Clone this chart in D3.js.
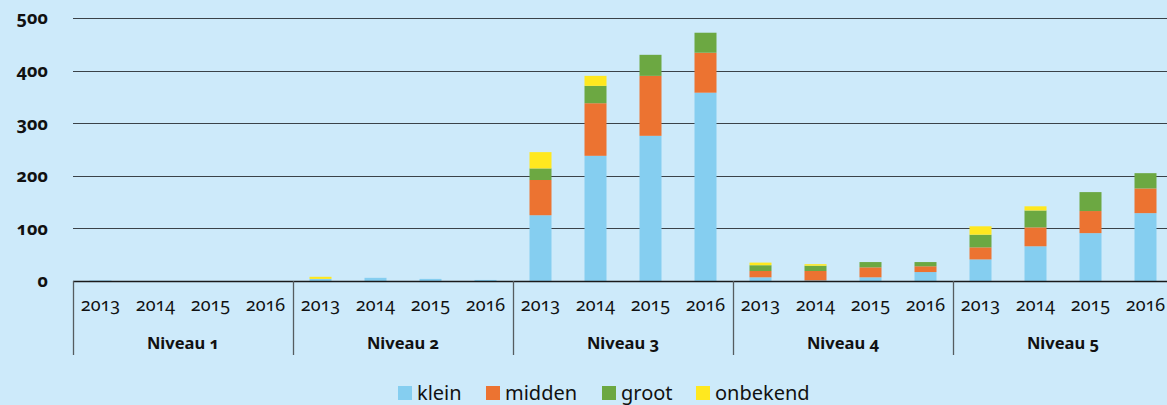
<!DOCTYPE html>
<html>
<head>
<meta charset="utf-8">
<script src="https://cdn.jsdelivr.net/npm/d3@7"></script>
<style>
  html, body { margin: 0; padding: 0; background: #cdeafa; }
  svg { display: block; font-family: "Noto Sans", sans-serif; font-variant-numeric: oldstyle-nums; }
</style>
</head>
<body>
<svg id="chart" width="1167" height="405"></svg>
<script>
const niveaus = ["Niveau 1", "Niveau 2", "Niveau 3", "Niveau 4", "Niveau 5"];
const years = ["2013", "2014", "2015", "2016"];
const seriesNames = ["klein", "midden", "groot", "onbekend"];
const seriesColors = ["#85cef0", "#ec7331", "#6ca842", "#ffe81f"];
const yTicks = [0, 100, 200, 300, 400, 500];
// values per niveau (outer) and year (inner)
const klein    = [1, 0, 0, 0,   4, 6, 4, 2,   125, 238, 276, 358,   7, 1, 7, 17,   41, 66, 91, 129];
const midden   = [0, 0, 0, 0,   0, 0, 0, 0,   67, 100, 114, 76,     12, 18, 19, 11, 23, 36, 42, 47];
const groot    = [0, 0, 0, 0,   0, 0, 0, 0,   22, 33, 40, 38,       11, 10, 10, 8,  24, 32, 36, 29];
const onbekend = [0, 0, 0, 0,   4, 0, 0, 0,   31, 19, 0, 0,         5, 3, 0, 0,     16, 8, 0, 0];

const rows = [];
niveaus.forEach((n, i) => years.forEach((y, j) => {
  const k = i * years.length + j;
  rows.push({niveau: n, year: y, klein: klein[k], midden: midden[k], groot: groot[k], onbekend: onbekend[k]});
}));

const svg = d3.select("#chart");
const x0 = d3.scaleBand().domain(niveaus).range([73, 1173]).paddingInner(0).paddingOuter(0);
const x1 = d3.scaleBand().domain(years).range([0, x0.bandwidth()]).paddingInner(0.6).paddingOuter(0.3);
const y = d3.scaleLinear().domain([0, 500]).range([281, 18]);

// gridlines
svg.append("g").selectAll("line").data(yTicks.filter(d => d > 0)).join("line")
  .attr("x1", 73).attr("x2", 1167)
  .attr("y1", d => Math.round(y(d)) + 0.5).attr("y2", d => Math.round(y(d)) + 0.5)
  .attr("stroke", "#3a4248").attr("stroke-width", 1.2);

// y tick labels
svg.append("g").selectAll("text").data(yTicks).join("text")
  .attr("x", 48).attr("y", d => y(d))
  .attr("dy", "0.35em")
  .attr("text-anchor", "end")
  .attr("font-size", 18).attr("font-weight", "bold").attr("fill", "#111")
  .text(d => d);

// stacked bars
const stack = d3.stack().keys(seriesNames)(rows);
const color = d3.scaleOrdinal().domain(seriesNames).range(seriesColors);
svg.append("g").selectAll("g").data(stack).join("g")
  .attr("fill", d => color(d.key))
  .selectAll("rect").data(d => d).join("rect")
  .attr("x", d => x0(d.data.niveau) + x1(d.data.year))
  .attr("width", x1.bandwidth())
  .attr("y", d => y(d[1]))
  .attr("height", d => Math.max(0, y(d[0]) - y(d[1])));

// baseline axis
svg.append("line").attr("x1", 73).attr("x2", 1167).attr("y1", 281.5).attr("y2", 281.5)
  .attr("stroke", "#1a1a1a").attr("stroke-width", 1.5);

// group separators
const seps = niveaus.map(n => x0(n)).concat([x0.range()[1]]);
svg.append("g").selectAll("line").data(seps).join("line")
  .attr("x1", d => d + 0.5).attr("x2", d => d + 0.5)
  .attr("y1", 281).attr("y2", 355)
  .attr("stroke", "#555c60").attr("stroke-width", 1.3);

// year labels
const yearG = svg.append("g");
niveaus.forEach(n => {
  yearG.selectAll(null).data(years).join("text")
    .attr("x", d => x0(n) + x1(d) + x1.bandwidth() / 2)
    .attr("y", 311)
    .attr("text-anchor", "middle")
    .attr("font-size", 18).attr("fill", "#111")
    .text(d => d);
});

// niveau labels
svg.append("g").selectAll("text").data(niveaus).join("text")
  .attr("x", d => x0(d) + x0.bandwidth() / 2)
  .attr("y", 349)
  .attr("text-anchor", "middle")
  .attr("font-size", 16.5).attr("font-weight", "bold").attr("fill", "#111")
  .text(d => d);

// legend
const legendX = [398, 486, 602, 696];
const lg = svg.append("g").selectAll("g").data(seriesNames).join("g")
  .attr("transform", (d, i) => `translate(${legendX[i]},386)`);
lg.append("rect").attr("width", 14).attr("height", 14).attr("fill", d => color(d));
lg.append("text").attr("x", 19).attr("y", 14).attr("font-size", 20).attr("fill", "#111").text(d => d);
</script>
</body>
</html>
